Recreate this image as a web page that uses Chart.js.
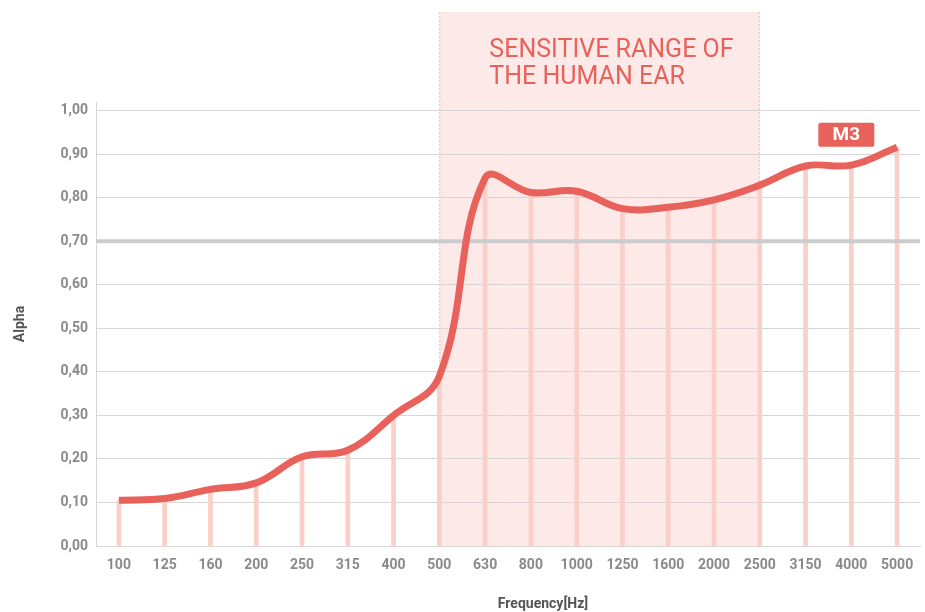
<!DOCTYPE html>
<html>
<head>
<meta charset="utf-8">
<script src="https://cdn.jsdelivr.net/npm/chart.js@4"></script>
<style>
  html, body { margin: 0; padding: 0; background: #fff; }
  #wrap { width: 925px; height: 612px; position: relative; }
</style>
</head>
<body>
<div id="wrap"><canvas id="chart"></canvas></div>
<script>
// data
var frequencies = ["100","125","160","200","250","315","400","500","630","800","1000","1250","1600","2000","2500","3150","4000","5000"];
var alphaM3 = [0.105,0.109,0.13,0.145,0.205,0.22,0.30,0.39,0.845,0.812,0.815,0.775,0.778,0.795,0.829,0.873,0.875,0.916];
var seriesName = "M3";
var yTicks = [0,0.1,0.2,0.3,0.4,0.5,0.6,0.7,0.8,0.9,1.0];
var threshold = 0.70;
var sensitiveRange = ["500", "2500"];
var rangeText = ["SENSITIVE RANGE OF", "THE HUMAN EAR"];

var red = "#e8615a";
var pink = "#f9cfc7";

// 背景の帯と文字
var rangePlugin = {
    id: "rangeBand",
    beforeDraw: function(chart) {
        var c = chart.ctx, xs = chart.scales.x, a = chart.chartArea;
        var x1 = xs.getPixelForValue(frequencies.indexOf(sensitiveRange[0]));
        var x2 = xs.getPixelForValue(frequencies.indexOf(sensitiveRange[1]));
        c.save();
        c.fillStyle = "#fce9e8";
        c.fillRect(x1, 12, x2 - x1, a.bottom - 12);
        c.strokeStyle = "#f7b9b2";
        c.lineWidth = 1;
        c.setLineDash([2, 2]);
        c.beginPath();
        c.moveTo(x1 + 0.5, 12); c.lineTo(x1 + 0.5, a.bottom);
        c.moveTo(x2 - 0.5, 12); c.lineTo(x2 - 0.5, a.bottom);
        c.stroke();
        c.setLineDash([]);
        c.fillStyle = red;
        c.font = "25px Roboto";
        c.textBaseline = "alphabetic";
        c.fillText(rangeText[0], x1 + 50, 57);
        c.fillText(rangeText[1], x1 + 50, 84);
        c.restore();
    },
    // 0,70の線は棒の上・曲線の下
    beforeDatasetDraw: function(chart, args) {
        if (args.index !== 0) return;
        var c = chart.ctx, a = chart.chartArea;
        var y = chart.scales.y.getPixelForValue(threshold);
        c.save();
        c.strokeStyle = "#cccccc";
        c.lineWidth = 4;
        c.beginPath();
        c.moveTo(a.left, y); c.lineTo(a.right, y);
        c.stroke();
        c.restore();
    },
    afterDraw: function(chart) {
        var c = chart.ctx, xs = chart.scales.x, ys = chart.scales.y, a = chart.chartArea;
        // ラベル M3
        var cx = xs.getPixelForValue(frequencies.indexOf("4000")) - 5;
        var cy = ys.getPixelForValue(0.945);
        c.save();
        c.fillStyle = red;
        c.beginPath();
        c.roundRect(cx - 28, cy - 12, 56, 24, 2);
        c.fill();
        c.fillStyle = "#fff";
        c.font = "bold 19px Roboto";
        c.textAlign = "center";
        c.textBaseline = "middle";
        c.fillText(seriesName, cx, cy + 1);
        // x軸タイトル
        c.fillStyle = "#555";
        c.font = "bold 14px Roboto";
        c.fillText("Frequency[Hz]", (a.left + a.right) / 2 + 35, 604);
        c.restore();
    }
};

var ctx = document.getElementById("chart");
var chart = new Chart(ctx, {
    data: {
        labels: frequencies,
        datasets: [{
            type: "line",
            label: seriesName,
            data: alphaM3,
            borderColor: red,
            borderWidth: 7,
            pointRadius: 0,
            tension: 0.4,
            fill: false,
            order: 0
        }, {
            type: "bar",
            label: seriesName + " bars",
            data: alphaM3,
            backgroundColor: pink,
            barThickness: 4,
            order: 1
        }]
    },
    options: {
        responsive: true,
        maintainAspectRatio: false,
        animation: false,
        layout: { padding: { left: 8, right: 5, top: 102, bottom: 0 } },
        plugins: {
            legend: { display: false },
            tooltip: { enabled: false }
        },
        scales: {
            x: {
                offset: true,
                grid: { display: false },
                border: { color: "#d6d6d6", width: 1 },
                ticks: {
                    color: "#8a8a8a",
                    font: { family: "Roboto", size: 14, weight: "bold" },
                    padding: 3,
                    maxRotation: 0,
                    autoSkip: false
                },
                afterFit: function(s) { s.height = 66; }
            },
            y: {
                min: 0,
                max: 1.02,
                afterBuildTicks: function(s) {
                    s.ticks = yTicks.map(function(v) { return { value: v }; });
                },
                grid: { color: "#d6d6d6", lineWidth: 1, drawTicks: false },
                border: { color: "#d6d6d6", width: 1 },
                ticks: {
                    color: "#8a8a8a",
                    font: { family: "Roboto", size: 14, weight: "bold" },
                    padding: 8,
                    callback: function(v) { return Number(v).toFixed(2).replace(".", ","); }
                },
                title: {
                    display: true,
                    text: "Alpha",
                    color: "#555",
                    font: { family: "Roboto", size: 14, weight: "bold" },
                    padding: { top: 4, bottom: 4 }
                },
                afterFit: function(s) { s.width = 88; }
            }
        }
    },
    plugins: [rangePlugin]
});
</script>
</body>
</html>
